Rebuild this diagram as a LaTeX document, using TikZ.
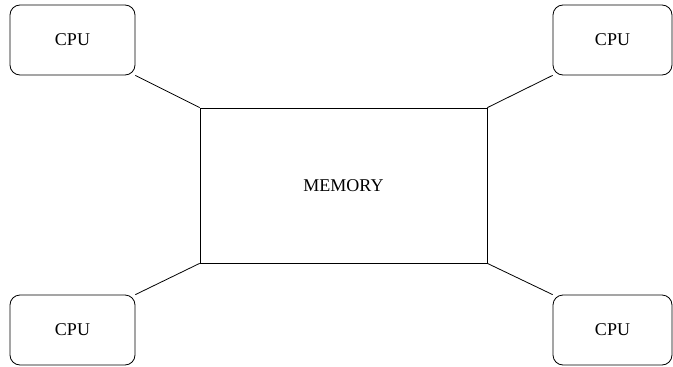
\documentclass[tikz,border=0pt]{standalone}
\usepackage{fontspec}
\setmainfont{Liberation Serif}
\usepackage{tikz}

\begin{document}
\begin{tikzpicture}[x=1pt,y=-1pt,
  cpu/.style={draw,line width=0.8pt,rounded corners=10pt,inner sep=0pt,minimum width=125pt,minimum height=70pt,font=\fontsize{18}{22}\selectfont},
  mem/.style={draw,line width=0.8pt,inner sep=0pt,minimum width=287pt,minimum height=155pt,font=\fontsize{18}{22}\selectfont},
  link/.style={line width=0.8pt}]
\useasboundingbox (0,0) rectangle (673,367);
\node[mem] (memory) at (343.5,185.5) {MEMORY};
\node[cpu] (cpu1) at (72.5,40) {CPU};
\node[cpu,minimum width=119pt] (cpu2) at (612.5,40) {CPU};
\node[cpu] (cpu3) at (72.5,330) {CPU};
\node[cpu,minimum width=119pt] (cpu4) at (612.5,330) {CPU};
\draw[link] (cpu1.south east)--(memory.north west);
\draw[link] (cpu2.south west)--(memory.north east);
\draw[link] (cpu3.north east)--(memory.south west);
\draw[link] (cpu4.north west)--(memory.south east);
\end{tikzpicture}
\end{document}
